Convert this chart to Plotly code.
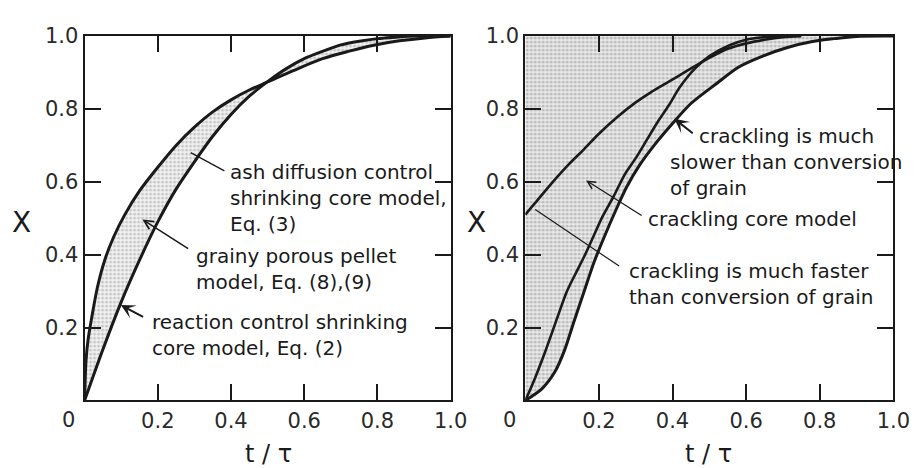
import plotly.graph_objects as go

# ---------------- data ----------------
# left panel
t_reaction = [0, 0.05, 0.10, 0.15, 0.20, 0.25, 0.30, 0.35, 0.40, 0.45, 0.50, 0.55,
              0.60, 0.65, 0.70, 0.75, 0.80, 0.85, 0.90, 1.0]
X_reaction = [0, 0.14, 0.27, 0.385, 0.49, 0.58, 0.655, 0.725, 0.785, 0.835, 0.875, 0.91,
              0.938, 0.958, 0.976, 0.986, 0.993, 0.997, 1.0, 1.0]

t_ash = [0, 0.004, 0.01, 0.02, 0.035, 0.055, 0.08, 0.11, 0.15, 0.20, 0.25, 0.30, 0.35,
         0.40, 0.45, 0.50, 0.57, 0.65, 0.72, 0.79, 0.86, 0.93, 1.0]
X_ash = [0, 0.11, 0.17, 0.23, 0.31, 0.385, 0.45, 0.51, 0.575, 0.64, 0.70, 0.75, 0.792,
         0.825, 0.852, 0.874, 0.905, 0.938, 0.958, 0.975, 0.987, 0.995, 1.0]

# right panel
t_fast = [0.0, 0.025, 0.075, 0.12, 0.16, 0.20, 0.25, 0.30, 0.34, 0.39, 0.44, 0.50, 0.55,
          0.60, 0.65, 0.70, 0.75]
X_fast = [0.51, 0.54, 0.60, 0.65, 0.69, 0.732, 0.778, 0.818, 0.845, 0.875, 0.905, 0.94,
          0.965, 0.98, 0.99, 0.997, 1.0]

t_core = [0, 0.019, 0.053, 0.088, 0.112, 0.135, 0.16, 0.185, 0.21, 0.24, 0.27, 0.30, 0.33,
          0.36, 0.39, 0.42, 0.46, 0.50, 0.555, 0.60, 0.65, 0.70]
X_core = [0, 0.043, 0.131, 0.23, 0.297, 0.345, 0.395, 0.45, 0.505, 0.56, 0.62, 0.665, 0.715,
          0.765, 0.81, 0.86, 0.91, 0.945, 0.975, 0.99, 0.997, 1.0]

t_slow = [0, 0.045, 0.08, 0.107, 0.133, 0.16, 0.187, 0.215, 0.245, 0.275, 0.31, 0.35, 0.40,
          0.45, 0.52, 0.58, 0.645, 0.71, 0.78, 0.84, 0.90, 1.0]
X_slow = [0, 0.032, 0.078, 0.139, 0.219, 0.30, 0.38, 0.45, 0.52, 0.585, 0.645, 0.70, 0.76,
          0.815, 0.87, 0.915, 0.945, 0.968, 0.985, 0.993, 0.999, 1.0]

tick_vals = [0.2, 0.4, 0.6, 0.8, 1.0]
tick_text = ["0.2", "0.4", "0.6", "0.8", "1.0"]
axis_range = [0, 1]

# ---------------- styling ----------------
FONT = "DejaVu Sans"
INK = "#1a1a1a"
W, H = 923, 468
OFF = 8  # page margin of the browser around the figure


def px_x(p):
    return (p - OFF) / W


def px_y(p):
    return 1 - (p - OFF) / H


fig = go.Figure()

# left shaded band between the two limiting models
fig.add_trace(go.Scatter(
    x=t_ash + t_reaction[::-1], y=X_ash + X_reaction[::-1],
    mode="lines", line=dict(width=0), fill="toself",
    fillcolor="#f0f0f0",
    fillpattern=dict(shape=".", size=4, solidity=0.45, fgcolor="#9c9c9c", bgcolor="#f3f3f3"),
    xaxis="x", yaxis="y", hoverinfo="skip", showlegend=False))
for tt, xx in [(t_ash, X_ash), (t_reaction, X_reaction)]:
    fig.add_trace(go.Scatter(x=tt, y=xx, mode="lines",
                             line=dict(color=INK, width=3, shape="spline", smoothing=0.8),
                             xaxis="x", yaxis="y", showlegend=False))

# right shaded region: everything left of / above the slowest curve
fig.add_trace(go.Scatter(
    x=t_slow + [axis_range[0]], y=X_slow + [axis_range[1]],
    mode="lines", line=dict(width=0), fill="toself",
    fillcolor="#e6e6e6",
    fillpattern=dict(shape=".", size=4, solidity=0.5, fgcolor="#8c8c8c", bgcolor="#ececec"),
    xaxis="x2", yaxis="y2", hoverinfo="skip", showlegend=False))
for tt, xx, w in [(t_fast, X_fast, 2.6), (t_core, X_core, 2.6), (t_slow, X_slow, 3)]:
    fig.add_trace(go.Scatter(x=tt, y=xx, mode="lines",
                             line=dict(color=INK, width=w, shape="spline", smoothing=0.8),
                             xaxis="x2", yaxis="y2", showlegend=False))

ydom = [px_y(398.5), px_y(24.5)]
common_axis = dict(range=axis_range, showgrid=False, zeroline=False,
                   showline=True, linecolor=INK, linewidth=2, mirror="ticks",
                   ticks="inside", ticklen=16, tickwidth=2, tickcolor=INK,
                   tickvals=tick_vals, ticktext=tick_text,
                   tickfont=dict(family=FONT, size=21, color="#2a2a2a"))

fig.update_layout(
    width=W, height=H, autosize=False, margin=dict(l=0, r=0, t=0, b=0),
    paper_bgcolor="white", plot_bgcolor="white",
    xaxis=dict(domain=[px_x(86), px_x(459)], anchor="y", **common_axis),
    yaxis=dict(domain=ydom, anchor="x", **common_axis),
    xaxis2=dict(domain=[px_x(535), px_x(910)], anchor="y2", **common_axis),
    yaxis2=dict(domain=ydom, anchor="x2", **common_axis),
)

ann = []
tf = dict(family=FONT, size=20, color=INK)
# axis titles & zero labels
for xr, yr, cx in [("x", "y", 273), ("x2", "y2", 722)]:
    ann.append(dict(xref="paper", yref="paper", x=px_x(cx), y=px_y(453),
                    text="t / τ", showarrow=False, font=dict(family=FONT, size=24, color=INK),
                    xanchor="center", yanchor="middle"))
    ann.append(dict(xref=xr, yref=yr, x=0, y=0, xshift=-16, yshift=-20, text="0",
                    showarrow=False, font=dict(family=FONT, size=21, color="#2a2a2a"),
                    xanchor="center", yanchor="middle"))
for cx in [22, 485]:
    ann.append(dict(xref="paper", yref="paper", x=px_x(cx), y=px_y(216), text="X",
                    showarrow=False, font=dict(family=FONT, size=28, color=INK),
                    xanchor="center", yanchor="middle"))

# left panel labels
ann += [
    dict(xref="x", yref="y", x=0.391, y=0.556, xanchor="left", yanchor="middle", align="left",
         text="ash diffusion control<br>shrinking core model,<br>Eq. (3)", showarrow=False, font=tf),
    dict(xref="x", yref="y", x=0.29, y=0.68, ax=0.386, ay=0.628, axref="x", ayref="y",
         text="", showarrow=True, arrowhead=0, arrowwidth=1.3, arrowcolor=INK),
    dict(xref="x", yref="y", x=0.30, y=0.36, xanchor="left", yanchor="middle", align="left",
         text="grainy porous pellet<br>model, Eq. (8),(9)", showarrow=False, font=tf),
    dict(xref="x", yref="y", x=0.158, y=0.497, ax=0.287, ay=0.414, axref="x", ayref="y",
         text="", showarrow=True, arrowhead=5, arrowsize=1.2, arrowwidth=1.5, arrowcolor=INK),
    dict(xref="x", yref="y", x=0.18, y=0.18, xanchor="left", yanchor="middle", align="left",
         text="reaction control shrinking<br>core model, Eq. (2)", showarrow=False, font=tf),
    dict(xref="x", yref="y", x=0.099, y=0.262, ax=0.164, ay=0.227, axref="x", ayref="y",
         text="", showarrow=True, arrowhead=3, arrowsize=1.2, arrowwidth=2, arrowcolor=INK),
]
# right panel labels
ann += [
    dict(xref="x2", yref="y2", x=0.467, y=0.725, xanchor="left", yanchor="middle", align="left",
         text="crackling is much", showarrow=False, font=tf),
    dict(xref="x2", yref="y2", x=0.387, y=0.619, xanchor="left", yanchor="middle", align="left",
         text="slower than conversion<br>of grain", showarrow=False, font=tf),
    dict(xref="x2", yref="y2", x=0.405, y=0.773, ax=0.459, ay=0.73, axref="x2", ayref="y2",
         text="", showarrow=True, arrowhead=3, arrowsize=1.2, arrowwidth=2, arrowcolor=INK),
    dict(xref="x2", yref="y2", x=0.328, y=0.497, xanchor="left", yanchor="middle", align="left",
         text="crackling core model", showarrow=False, font=tf),
    dict(xref="x2", yref="y2", x=0.165, y=0.604, ax=0.32, ay=0.505, axref="x2", ayref="y2",
         text="", showarrow=True, arrowhead=5, arrowsize=1.2, arrowwidth=1.3, arrowcolor=INK),
    dict(xref="x2", yref="y2", x=0.275, y=0.32, xanchor="left", yanchor="middle", align="left",
         text="crackling is much faster<br>than conversion of grain", showarrow=False, font=tf),
    dict(xref="x2", yref="y2", x=0.027, y=0.524, ax=0.259, ay=0.366, axref="x2", ayref="y2",
         text="", showarrow=True, arrowhead=0, arrowwidth=1.2, arrowcolor=INK),
]
fig.update_layout(annotations=ann)

fig.write_html("out.html")
